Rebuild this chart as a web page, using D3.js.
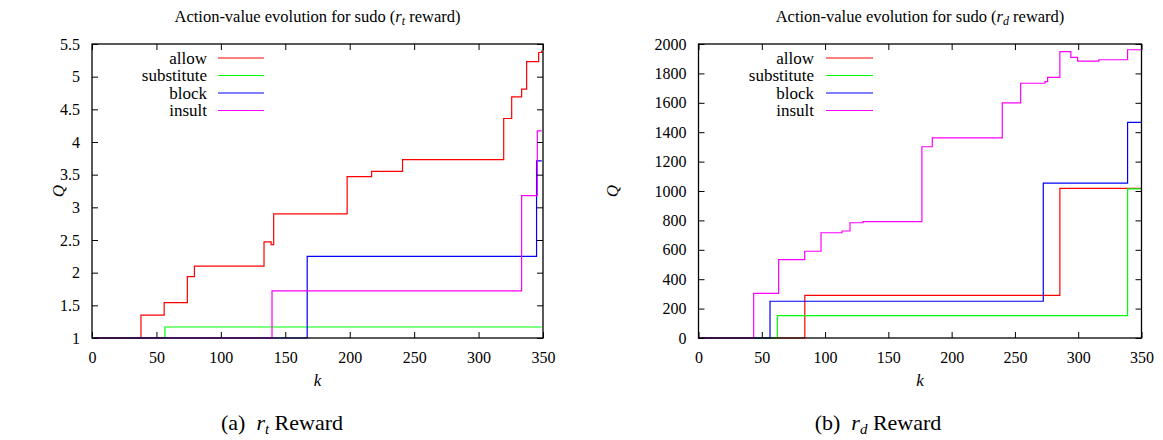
<!DOCTYPE html>
<html>
<head>
<meta charset="utf-8">
<script src="https://cdn.jsdelivr.net/npm/d3@7"></script>
<style>
  html, body { margin: 0; padding: 0; background: #fff; }
</style>
</head>
<body>
<svg id="chart" width="1163" height="440"></svg>
<script>
// ---------- data ----------
const seriesNames = ["allow", "substitute", "block", "insult"];
const seriesColors = ["#ff0000", "#00ff00", "#0000ff", "#ff00ff"];

const xTicks = [0, 50, 100, 150, 200, 250, 300, 350];
const yTicksRt = [1, 1.5, 2, 2.5, 3, 3.5, 4, 4.5, 5, 5.5];
const yTicksRd = [0, 200, 400, 600, 800, 1000, 1200, 1400, 1600, 1800, 2000];

// r_t reward: step points [k, Q]
const allowRt = [[0,1],[38,1.35],[56,1.54],[74,1.94],[79.5,2.10],[133.5,2.47],[139,2.43],[141,2.90],[198,3.47],[217,3.55],[241,3.73],[319.5,4.36],[325.7,4.69],[333.4,4.81],[337.3,5.23],[346.6,5.37],[349,5.40]];
const substituteRt = [[0,1],[56.6,1.168],[349,1.168]];
const blockRt = [[0,1],[167,2.25],[345,3.71],[349,3.71]];
const insultRt = [[0,1],[139.7,1.72],[333.4,3.18],[345.6,4.17],[349,4.17]];

// r_d reward: step points [k, Q]
const allowRd = [[0,0],[84,290],[285.5,1018],[350,1018]];
const substituteRd = [[0,0],[62.3,152],[339,1014],[350,1014]];
const blockRd = [[0,0],[56.5,250],[272.4,1054],[339,1467],[350,1467]];
const insultRd = [[0,0],[43.6,304],[63.3,533],[83.9,590],[96.8,716],[113.4,728],[119.7,784],[130,791],[176.5,1301],[184.7,1362],[240,1600],[254.5,1733],[273.7,1744],[275.8,1773],[285.5,1948],[294.2,1909],[299.5,1884],[316.3,1893],[339,1961],[350,1961]];

// ---------- layout ----------
const FONT = '"Liberation Serif", Tinos, "Times New Roman", Times, "DejaVu Serif", serif';
const svg = d3.select("#chart").style("font-family", FONT);
const panels = [
  { left: 92, right: 543, top: 44, bottom: 338, yDomain: [1, 5.5], yTicks: yTicksRt,
    data: [allowRt, substituteRt, blockRt, insultRt], sub: "t", tag: "(a)", capX: 282, qX: 58,
    legTextX: 207, legX1: 218, legX2: 264 },
  { left: 698.5, right: 1141.5, top: 44, bottom: 338, yDomain: [0, 2000], yTicks: yTicksRd,
    data: [allowRd, substituteRd, blockRd, insultRd], sub: "d", tag: "(b)", capX: 878, qX: 612,
    legTextX: 814, legX1: 826, legX2: 873 }
];
const legendY = [58, 75.5, 93, 110.5];

panels.forEach(p => {
  const x = d3.scaleLinear().domain([0, 350]).range([p.left, p.right]);
  const y = d3.scaleLinear().domain(p.yDomain).range([p.bottom, p.top]);
  const g = svg.append("g");
  const cx = (p.left + p.right) / 2;

  // title
  const t = g.append("text").attr("x", cx).attr("y", 22).attr("text-anchor", "middle")
    .attr("font-family", FONT).style("font-size", "16.5px");
  t.append("tspan").text("Action-value evolution for sudo (");
  t.append("tspan").style("font-style", "italic").text("r");
  t.append("tspan").style("font-style", "italic").style("font-size", "12px").attr("dy", 3).text(p.sub);
  t.append("tspan").attr("dy", -3).text(" reward)");

  // series lines
  const line = d3.line().x(d => x(d[0])).y(d => y(d[1])).curve(d3.curveStepAfter);
  p.data.forEach((s, i) => {
    g.append("path").datum(s).attr("d", line).attr("fill", "none")
      .attr("stroke", seriesColors[i]).attr("stroke-width", 1.2);
  });

  // axes (ticks inward, mirrored)
  const tickLen = 6;
  const fmt = d3.format("~g");
  const axB = d3.axisBottom(x).tickValues(xTicks).tickSize(-tickLen).tickPadding(tickLen + 8).tickFormat(d3.format("d"));
  const axT = d3.axisTop(x).tickValues(xTicks).tickSize(-tickLen).tickFormat("");
  const axL = d3.axisLeft(y).tickValues(p.yTicks).tickSize(-tickLen).tickPadding(tickLen + 6).tickFormat(fmt);
  const axR = d3.axisRight(y).tickValues(p.yTicks).tickSize(-tickLen).tickFormat("");
  [[axB, `translate(0,${p.bottom})`], [axT, `translate(0,${p.top})`],
   [axL, `translate(${p.left},0)`], [axR, `translate(${p.right},0)`]].forEach(([ax, tr]) => {
    const a = g.append("g").attr("transform", tr).call(ax);
    a.attr("font-family", FONT).attr("font-size", 16);
    a.select(".domain").remove();
    a.selectAll("line").attr("stroke", "#000").attr("stroke-width", 1);
    a.selectAll("text").attr("fill", "#000");
  });
  g.append("rect").attr("x", p.left).attr("y", p.top)
    .attr("width", p.right - p.left).attr("height", p.bottom - p.top)
    .attr("fill", "none").attr("stroke", "#000").attr("stroke-width", 1.3);

  // axis labels
  g.append("text").attr("transform", `translate(${p.qX},${(p.top + p.bottom) / 2}) rotate(-90)`)
    .attr("text-anchor", "middle").attr("dy", "0.35em").attr("font-family", FONT)
    .style("font-size", "17px").style("font-style", "italic").text("Q");
  g.append("text").attr("x", cx).attr("y", 386).attr("text-anchor", "middle").attr("font-family", FONT)
    .style("font-size", "17px").style("font-style", "italic").text("k");

  // legend
  seriesNames.forEach((n, i) => {
    g.append("text").attr("x", p.legTextX).attr("y", legendY[i]).attr("dy", "0.33em")
      .attr("text-anchor", "end").attr("font-family", FONT).style("font-size", "17px").text(n);
    g.append("line").attr("x1", p.legX1).attr("x2", p.legX2)
      .attr("y1", legendY[i]).attr("y2", legendY[i])
      .attr("stroke", seriesColors[i]).attr("stroke-width", 1.2);
  });

  // caption
  const c = g.append("text").attr("x", p.capX).attr("y", 430).attr("text-anchor", "middle")
    .attr("font-family", FONT).style("font-size", "22px");
  c.append("tspan").text(p.tag + "\u00a0\u00a0");
  c.append("tspan").style("font-style", "italic").text("r");
  c.append("tspan").style("font-style", "italic").style("font-size", "15px").attr("dy", 4).text(p.sub);
  c.append("tspan").attr("dy", -4).text(" Reward");
});
</script>
</body>
</html>
